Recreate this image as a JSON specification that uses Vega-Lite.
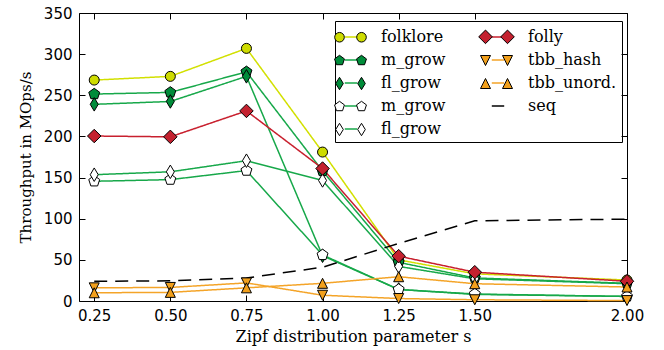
{
  "$schema": "https://vega.github.io/schema/vega-lite/v6.json",
  "width": 548,
  "height": 288,
  "autosize": {"type": "none"},
  "padding": {"left": 79, "top": 13, "right": 37, "bottom": 49},
  "background": "white",
  "data": {"values": [
    {"id": "s1", "s": 0.25, "v": 268.5}, {"id": "s1", "s": 0.5, "v": 273}, {"id": "s1", "s": 0.75, "v": 307}, {"id": "s1", "s": 1.0, "v": 181}, {"id": "s1", "s": 1.25, "v": 50}, {"id": "s1", "s": 1.5, "v": 33}, {"id": "s1", "s": 2.0, "v": 25.5},
    {"id": "s2", "s": 0.25, "v": 251.5}, {"id": "s2", "s": 0.5, "v": 253.5}, {"id": "s2", "s": 0.75, "v": 278.5}, {"id": "s2", "s": 1.0, "v": 158}, {"id": "s2", "s": 1.25, "v": 47}, {"id": "s2", "s": 1.5, "v": 28}, {"id": "s2", "s": 2.0, "v": 21.5},
    {"id": "s3", "s": 0.25, "v": 239}, {"id": "s3", "s": 0.5, "v": 242.5}, {"id": "s3", "s": 0.75, "v": 273}, {"id": "s3", "s": 1.0, "v": 55}, {"id": "s3", "s": 1.25, "v": 14}, {"id": "s3", "s": 1.5, "v": 8}, {"id": "s3", "s": 2.0, "v": 5.5},
    {"id": "s4", "s": 0.25, "v": 145.5}, {"id": "s4", "s": 0.5, "v": 147.5}, {"id": "s4", "s": 0.75, "v": 158.5}, {"id": "s4", "s": 1.0, "v": 56}, {"id": "s4", "s": 1.25, "v": 14}, {"id": "s4", "s": 1.5, "v": 8.5}, {"id": "s4", "s": 2.0, "v": 5.5},
    {"id": "s5", "s": 0.25, "v": 153.5}, {"id": "s5", "s": 0.5, "v": 157}, {"id": "s5", "s": 0.75, "v": 170.5}, {"id": "s5", "s": 1.0, "v": 146.5}, {"id": "s5", "s": 1.25, "v": 42}, {"id": "s5", "s": 1.5, "v": 27}, {"id": "s5", "s": 2.0, "v": 21},
    {"id": "s6", "s": 0.25, "v": 200.5}, {"id": "s6", "s": 0.5, "v": 199.5}, {"id": "s6", "s": 0.75, "v": 231}, {"id": "s6", "s": 1.0, "v": 161}, {"id": "s6", "s": 1.25, "v": 54.5}, {"id": "s6", "s": 1.5, "v": 35}, {"id": "s6", "s": 2.0, "v": 24},
    {"id": "s7", "s": 0.25, "v": 16}, {"id": "s7", "s": 0.5, "v": 16.5}, {"id": "s7", "s": 0.75, "v": 22}, {"id": "s7", "s": 1.0, "v": 7}, {"id": "s7", "s": 1.25, "v": 3}, {"id": "s7", "s": 1.5, "v": 1.5}, {"id": "s7", "s": 2.0, "v": 0.5},
    {"id": "s8", "s": 0.25, "v": 10}, {"id": "s8", "s": 0.5, "v": 10.5}, {"id": "s8", "s": 0.75, "v": 16}, {"id": "s8", "s": 1.0, "v": 21.5}, {"id": "s8", "s": 1.25, "v": 29.5}, {"id": "s8", "s": 1.5, "v": 21}, {"id": "s8", "s": 2.0, "v": 17},
    {"id": "s9", "s": 0.25, "v": 24}, {"id": "s9", "s": 0.5, "v": 24.5}, {"id": "s9", "s": 0.75, "v": 28}, {"id": "s9", "s": 1.0, "v": 41}, {"id": "s9", "s": 1.25, "v": 70}, {"id": "s9", "s": 1.5, "v": 97.5}, {"id": "s9", "s": 2.0, "v": 99.5}
  ]},
  "layer": [
    {
      "mark": {"type": "line", "strokeWidth": 1.5},
      "encoding": {
        "x": {"field": "s", "type": "quantitative", "scale": {"domain": [0.2, 2.0], "nice": false, "zero": false},
              "axis": {"orient": "bottom", "values": [0.25, 0.5, 0.75, 1.0, 1.25, 1.5, 2.0], "format": ".2f", "title": "Zipf distribution parameter s", "titlePadding": 5, "titleFontSize": 16}},
        "y": {"field": "v", "type": "quantitative", "scale": {"domain": [0, 350], "nice": false},
              "axis": {"orient": "left", "values": [0, 50, 100, 150, 200, 250, 300, 350], "title": "Throughput in MOps/s", "titlePadding": 10}},
        "color": {"field": "id", "type": "nominal",
          "scale": {"domain": ["s1", "s2", "s3", "s4", "s5", "s6", "s7", "s8", "s9"],
                    "range": ["#d2e000", "#17a84a", "#17a84a", "#17a84a", "#17a84a", "#c8202e", "#f4a428", "#f4a428", "#000000"]},
          "legend": {"title": null, "orient": "none", "legendX": 256, "legendY": 8, "columns": 2, "columnPadding": 41, "rowPadding": 4,
                     "symbolSize": 400, "symbolType": "M-0.62,0L0.62,0", "symbolStrokeWidth": 1.5, "labelOffset": 19, "padding": 5, "strokeColor": "black",
                     "labelExpr": "{'s1':'folklore','s2':'m_grow','s3':'fl_grow','s4':'m_grow','s5':'fl_grow','s6':'folly','s7':'tbb_hash','s8':'tbb_unord.','s9':'seq'}[datum.value]"}},
        "strokeDash": {"field": "id", "type": "nominal",
          "scale": {"domain": ["s1", "s2", "s3", "s4", "s5", "s6", "s7", "s8", "s9"],
                    "range": [[1, 0], [1, 0], [1, 0], [1, 0], [1, 0], [1, 0], [1, 0], [1, 0], [13, 8]]},
          "legend": {"title": null, "orient": "none", "legendX": 256, "legendY": 8, "columns": 2, "columnPadding": 41, "rowPadding": 4,
                     "symbolSize": 400, "symbolType": "M-0.62,0L0.62,0", "symbolStrokeWidth": 1.5, "labelOffset": 19, "padding": 5, "strokeColor": "black",
                     "labelExpr": "{'s1':'folklore','s2':'m_grow','s3':'fl_grow','s4':'m_grow','s5':'fl_grow','s6':'folly','s7':'tbb_hash','s8':'tbb_unord.','s9':'seq'}[datum.value]"}}
      }
    },
    {
      "transform": [{"filter": "datum.id !== 's9'"}],
      "mark": {"type": "point", "filled": true, "stroke": "black", "strokeWidth": 1, "size": 100, "opacity": 1},
      "encoding": {
        "x": {"field": "s", "type": "quantitative", "scale": {"domain": [0.2, 2.0], "nice": false, "zero": false},
              "axis": {"orient": "top", "values": [0.25, 0.5, 0.75, 1.0, 1.25, 1.5, 2.0], "labels": false, "title": null}},
        "y": {"field": "v", "type": "quantitative", "scale": {"domain": [0, 350], "nice": false},
              "axis": {"orient": "right", "values": [0, 50, 100, 150, 200, 250, 300, 350], "labels": false, "title": null}},
        "fill": {"field": "id", "type": "nominal",
          "scale": {"domain": ["s1", "s2", "s3", "s4", "s5", "s6", "s7", "s8"],
                    "range": ["#cedc00", "#008c3a", "#008c3a", "#ffffff", "#ffffff", "#c4212f", "#f2a01c", "#f2a01c"]},
          "legend": null},
        "shape": {"field": "id", "type": "nominal",
          "scale": {"domain": ["s1", "s2", "s3", "s4", "s5", "s6", "s7", "s8"],
                    "range": ["circle", "M0,-1.15L1.094,-0.355L0.676,0.93L-0.676,0.93L-1.094,-0.355Z", "M0,-1.35L0.8,0L0,1.35L-0.8,0Z", "M0,-1.15L1.094,-0.355L0.676,0.93L-0.676,0.93L-1.094,-0.355Z", "M0,-1.35L0.8,0L0,1.35L-0.8,0Z", "M0,-1.35L1.35,0L0,1.35L-1.35,0Z", "M-1,-1L1,-1L0,1Z", "M0,-1L1,1L-1,1Z"]},
          "legend": null}
      }
    },
    {
      "transform": [{"filter": "false"}],
      "mark": {"type": "point", "filled": true, "strokeWidth": 1, "size": 100, "opacity": 1},
      "encoding": {
        "x": {"field": "s", "type": "quantitative", "scale": {"domain": [0.2, 2.0], "nice": false, "zero": false}, "axis": null},
        "y": {"field": "v", "type": "quantitative", "scale": {"domain": [0, 350], "nice": false}, "axis": null},
        "fill": {"field": "id", "type": "nominal",
          "scale": {"domain": ["m1", "m2", "m3", "m4", "m5", "m6", "m7", "m8", "m9"],
                    "range": ["#cedc00", "#008c3a", "#008c3a", "#ffffff", "#ffffff", "#c4212f", "#f2a01c", "#f2a01c", "transparent"]},
          "legend": {"title": null, "orient": "none", "legendX": 256, "legendY": 8, "columns": 2, "columnPadding": 41, "rowPadding": 4,
                     "symbolSize": 400, "labelOffset": 73.4, "padding": 5, "symbolOpacity": 1, "symbolStrokeWidth": 1, "labelExpr": "''"}},
        "stroke": {"field": "id", "type": "nominal",
          "scale": {"domain": ["m1", "m2", "m3", "m4", "m5", "m6", "m7", "m8", "m9"],
                    "range": ["#000000", "#000000", "#000000", "#000000", "#000000", "#000000", "#000000", "#000000", "transparent"]},
          "legend": {"title": null, "orient": "none", "legendX": 256, "legendY": 8, "columns": 2, "columnPadding": 41, "rowPadding": 4,
                     "symbolSize": 400, "labelOffset": 73.4, "padding": 5, "symbolOpacity": 1, "symbolStrokeWidth": 1, "labelExpr": "''"}},
        "shape": {"field": "id", "type": "nominal",
          "scale": {"domain": ["m1", "m2", "m3", "m4", "m5", "m6", "m7", "m8", "m9"],
                    "range": ["M-1.58,0A0.48,0.48 0 1,0 -0.62,0A0.48,0.48 0 1,0 -1.58,0ZM0.62,0A0.48,0.48 0 1,0 1.58,0A0.48,0.48 0 1,0 0.62,0Z",
                              "M-1.1,-0.52L-0.605,-0.161L-0.794,0.421L-1.406,0.421L-1.595,-0.161ZM1.1,-0.52L1.595,-0.161L1.406,0.421L0.794,0.421L0.605,-0.161Z",
                              "M-1.1,-0.62L-0.72,0L-1.1,0.62L-1.48,0ZM1.1,-0.62L1.48,0L1.1,0.62L0.72,0Z",
                              "M-1.1,-0.52L-0.605,-0.161L-0.794,0.421L-1.406,0.421L-1.595,-0.161ZM1.1,-0.52L1.595,-0.161L1.406,0.421L0.794,0.421L0.605,-0.161Z",
                              "M-1.1,-0.62L-0.72,0L-1.1,0.62L-1.48,0ZM1.1,-0.62L1.48,0L1.1,0.62L0.72,0Z",
                              "M-1.1,-0.68L-0.42,0L-1.1,0.68L-1.78,0ZM1.1,-0.68L1.78,0L1.1,0.68L0.42,0Z",
                              "M-1.6,-0.5L-0.6,-0.5L-1.1,0.5ZM0.6,-0.5L1.6,-0.5L1.1,0.5Z",
                              "M-1.1,-0.5L-0.6,0.5L-1.6,0.5ZM1.1,-0.5L1.6,0.5L0.6,0.5Z",
                              "M0,0"]},
          "legend": {"title": null, "orient": "none", "legendX": 256, "legendY": 8, "columns": 2, "columnPadding": 41, "rowPadding": 4,
                     "symbolSize": 400, "labelOffset": 73.4, "padding": 5, "symbolOpacity": 1, "symbolStrokeWidth": 1, "labelExpr": "''"}}
      }
    }
  ],
  "resolve": {"axis": {"x": "independent", "y": "independent"}, "scale": {"shape": "independent", "fill": "independent", "stroke": "independent"}},
  "config": {
    "view": {"stroke": "black", "strokeWidth": 1},
    "axis": {"domain": false, "grid": false, "ticks": true, "tickColor": "black", "tickSize": -6, "tickWidth": 1,
             "labelPadding": 13, "labelFont": "DejaVu Sans", "labelFontSize": 15, "labelColor": "black", "labelFlush": false, "labelOverlap": false,
             "titleFont": "DejaVu Serif", "titleFontSize": 15, "titleFontWeight": "normal", "titleColor": "black"},
    "legend": {"labelFont": "DejaVu Serif", "labelFontSize": 16, "labelColor": "black", "labelLimit": 0}
  }
}
